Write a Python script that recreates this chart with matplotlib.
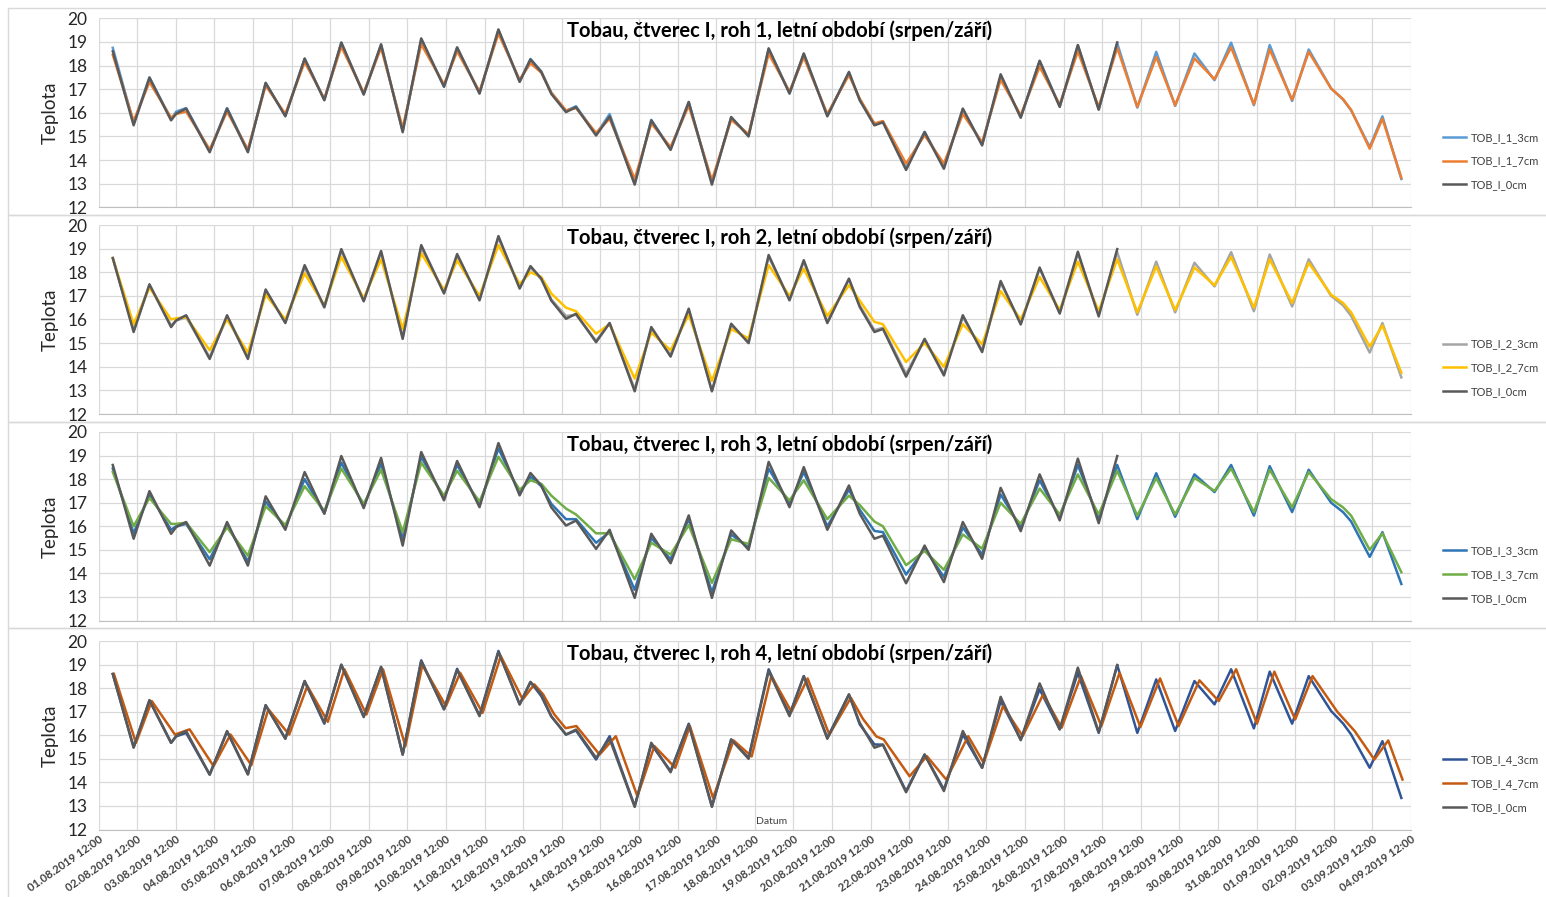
import matplotlib
matplotlib.use("Agg")
import matplotlib.pyplot as plt
from matplotlib.patches import Rectangle

# ---------------- data (time in days after 01.08.2019 12:00) ----------------
t_main = [0.37, 0.91, 1.32, 1.88, 2.01, 2.27, 2.88, 3.33, 3.87, 4.33, 4.84, 5.34, 5.85, 6.29,
          6.87, 7.32, 7.88, 8.36, 8.95, 9.29, 9.87, 10.36, 10.91, 11.19, 11.47, 11.73, 12.11,
          12.37, 12.89, 13.24, 13.89, 14.32, 14.82, 15.29, 15.89, 16.39, 16.84, 17.36, 17.9,
          18.27, 18.88, 19.44, 19.72, 20.1, 20.32, 20.92, 21.4, 21.9, 22.39, 22.89, 23.37,
          23.89, 24.38, 24.9, 25.37, 25.91, 26.39, 26.91, 27.4, 27.89, 28.39, 28.91, 29.34,
          29.93, 30.34, 30.92, 31.35, 31.93, 32.24, 32.45, 32.93, 33.26, 33.75]

tob_0cm = [18.6, 15.47, 17.49, 15.68, 15.96, 16.18, 14.33, 16.18, 14.33, 17.27, 15.85, 18.3, 16.53,
           18.98, 16.77, 18.9, 15.18, 19.15, 17.1, 18.77, 16.81, 19.53, 17.31, 18.26, 17.73, 16.8,
           16.03, 16.24, 15.04, 15.85, 12.96, 15.68, 14.43, 16.46, 12.96, 15.82, 15.0, 18.73,
           16.81, 18.51, 15.85, 17.73, 16.53, 15.47, 15.6, 13.58, 15.18, 13.63, 16.18, 14.62,
           17.63, 15.79, 18.2, 16.25, 18.87, 16.13, 18.98]

tob_1_3cm = [18.75, 15.55, 17.5, 15.72, 16.05, 16.2, 14.38, 16.2, 14.38, 17.25, 15.88, 18.28, 16.55,
             18.95, 16.8, 18.88, 15.22, 19.1, 17.12, 18.75, 16.85, 19.5, 17.33, 18.28, 17.75, 16.85,
             16.08, 16.28, 15.08, 15.95, 13.0, 15.7, 14.47, 16.45, 13.02, 15.8, 15.05, 18.7,
             16.85, 18.5, 15.88, 17.7, 16.55, 15.5, 15.62, 13.65, 15.2, 13.68, 16.15, 14.66,
             17.55, 15.82, 18.2, 16.28, 18.85, 16.15, 18.94, 16.22, 18.58, 16.29, 18.51, 17.38,
             18.97, 16.32, 18.87, 16.5, 18.68, 17.03, 16.56, 16.1, 14.55, 15.85, 13.2]

tob_1_7cm = [18.45, 15.65, 17.3, 15.8, 15.95, 16.05, 14.45, 16.05, 14.45, 17.15, 15.95, 18.15, 16.6,
             18.8, 16.85, 18.75, 15.35, 18.9, 17.2, 18.6, 16.9, 19.35, 17.4, 18.1, 17.7, 16.85,
             16.1, 16.2, 15.15, 15.75, 13.2, 15.55, 14.55, 16.3, 13.15, 15.7, 15.1, 18.5,
             16.9, 18.35, 15.95, 17.6, 16.6, 15.55, 15.65, 13.85, 15.05, 13.85, 15.95, 14.75,
             17.4, 15.9, 17.95, 16.35, 18.6, 16.25, 18.75, 16.25, 18.37, 16.32, 18.3, 17.42,
             18.77, 16.36, 18.68, 16.55, 18.58, 17.03, 16.58, 16.12, 14.48, 15.75, 13.25]

tob_2_3cm = [18.6, 15.55, 17.45, 15.75, 15.95, 16.1, 14.4, 16.1, 14.4, 17.2, 15.9, 18.2, 16.5,
             18.9, 16.8, 18.85, 15.25, 19.05, 17.15, 18.7, 16.85, 19.45, 17.35, 18.2, 17.7, 16.85,
             16.15, 16.2, 15.1, 15.85, 13.05, 15.6, 14.5, 16.4, 13.0, 15.75, 15.05, 18.65,
             16.85, 18.45, 15.9, 17.7, 16.6, 15.55, 15.65, 13.7, 15.15, 13.7, 16.1, 14.7,
             17.55, 15.85, 18.15, 16.3, 18.8, 16.2, 18.85, 16.2, 18.45, 16.3, 18.4, 17.4,
             18.85, 16.35, 18.75, 16.55, 18.55, 17.0, 16.6, 16.15, 14.6, 15.85, 13.55]

tob_2_7cm = [18.6, 15.8, 17.35, 16.0, 16.05, 16.1, 14.7, 16.0, 14.6, 17.05, 16.0, 17.95, 16.6,
             18.65, 16.9, 18.55, 15.6, 18.8, 17.25, 18.5, 17.0, 19.15, 17.5, 18.0, 17.8, 17.1,
             16.5, 16.35, 15.4, 15.8, 13.5, 15.45, 14.7, 16.2, 13.4, 15.6, 15.2, 18.3,
             17.0, 18.15, 16.15, 17.45, 16.8, 15.9, 15.8, 14.2, 15.0, 14.0, 15.8, 14.95,
             17.2, 16.0, 17.8, 16.4, 18.45, 16.35, 18.55, 16.3, 18.25, 16.4, 18.2, 17.45,
             18.65, 16.5, 18.55, 16.7, 18.4, 17.05, 16.7, 16.3, 14.85, 15.75, 13.75]

tob_3_3cm = [18.45, 15.7, 17.35, 15.85, 16.0, 16.1, 14.6, 16.05, 14.5, 17.05, 15.95, 18.0, 16.55,
             18.7, 16.85, 18.65, 15.45, 18.95, 17.2, 18.6, 16.9, 19.3, 17.4, 18.1, 17.7, 16.95,
             16.3, 16.3, 15.3, 15.75, 13.3, 15.5, 14.6, 16.3, 13.2, 15.65, 15.1, 18.45,
             16.95, 18.3, 16.0, 17.55, 16.7, 15.8, 15.75, 13.95, 15.05, 13.85, 15.95, 14.8,
             17.35, 15.95, 17.95, 16.35, 18.6, 16.3, 18.6, 16.3, 18.25, 16.4, 18.2, 17.45,
             18.6, 16.45, 18.55, 16.6, 18.4, 17.0, 16.6, 16.2, 14.7, 15.75, 13.55]

tob_3_7cm = [18.3, 16.0, 17.2, 16.1, 16.1, 16.15, 14.9, 15.95, 14.75, 16.85, 16.05, 17.7, 16.65,
             18.45, 16.95, 18.4, 15.75, 18.7, 17.3, 18.35, 17.05, 18.95, 17.55, 17.95, 17.8, 17.3,
             16.75, 16.5, 15.7, 15.7, 13.75, 15.3, 14.8, 16.05, 13.6, 15.45, 15.25, 18.05,
             17.1, 17.95, 16.3, 17.3, 16.9, 16.2, 16.0, 14.35, 14.95, 14.15, 15.65, 15.05,
             17.0, 16.1, 17.6, 16.5, 18.2, 16.5, 18.35, 16.45, 18.05, 16.5, 18.05, 17.5,
             18.45, 16.6, 18.4, 16.8, 18.3, 17.15, 16.8, 16.45, 15.0, 15.7, 14.05]

tob_4_3cm = [18.6, 15.5, 17.48, 15.68, 15.95, 16.1, 14.33, 16.15, 14.36, 17.28, 15.86, 18.3, 16.49,
             19.0, 16.8, 18.9, 15.18, 19.18, 17.1, 18.82, 16.84, 19.58, 17.31, 18.26, 17.66, 16.8,
             16.03, 16.2, 14.97, 15.96, 12.99, 15.61, 14.48, 16.49, 12.99, 15.82, 15.04, 18.8,
             16.88, 18.51, 15.89, 17.73, 16.46, 15.61, 15.6, 13.63, 15.18, 13.7, 16.03, 14.62,
             17.45, 15.82, 17.95, 16.25, 18.65, 16.1, 18.98, 16.1, 18.37, 16.18, 18.3, 17.31,
             18.8, 16.29, 18.7, 16.49, 18.51, 17.03, 16.5, 16.03, 14.62, 15.75, 13.34]

t_4_7cm = [0.40, 0.97, 1.38, 1.98, 2.36, 2.98, 3.42, 3.96, 4.40, 4.94, 5.41, 5.94, 6.37, 6.94,
           7.37, 7.95, 8.39, 9.00, 9.37, 9.95, 10.42, 10.99, 11.29, 11.52, 11.80, 12.10, 12.38,
           12.98, 13.40, 13.96, 14.40, 14.94, 15.32, 15.92, 16.45, 16.92, 17.43, 17.95, 18.37,
           18.93, 19.49, 19.80, 20.15, 20.34, 21.01, 21.46, 21.96, 22.53, 22.93, 23.43, 23.94,
           24.47, 24.95, 25.45, 25.98, 26.45, 26.99, 27.50, 27.98, 28.52, 29.02, 29.47, 30.01,
           30.46, 31.00, 31.45, 32.09, 32.54, 33.05, 33.41, 33.78]
tob_4_7cm = [18.6, 15.68, 17.45, 16.03, 16.25, 14.69, 16.03, 14.73, 17.1, 16.03, 18.09, 16.57, 18.8,
             16.88, 18.8, 15.54, 18.98, 17.24, 18.65, 16.95, 19.36, 17.52, 18.16, 17.73, 16.9,
             16.3, 16.39, 15.18, 15.96, 13.41, 15.54, 14.62, 16.39, 13.34, 15.78, 15.1, 18.51,
             17.0, 18.41, 16.03, 17.59, 16.7, 15.95, 15.82, 14.26, 15.11, 14.12, 15.96, 14.83,
             17.24, 15.96, 17.73, 16.32, 18.51, 16.39, 18.65, 16.35, 18.41, 16.39, 18.33, 17.45,
             18.8, 16.49, 18.7, 16.67, 18.51, 17.0, 16.18, 14.97, 15.78, 14.12]

date_labels = ["%02d.08.2019 12:00" % d for d in range(1, 32)] + \
              ["%02d.09.2019 12:00" % d for d in range(1, 5)]

panel_titles = ["Tobau, čtverec I, roh %d, letní období (srpen/září)" % k for k in range(1, 5)]

# ---------------- drawing ----------------
W, H = 1546, 897
fig = plt.figure(figsize=(W / 100, H / 100), dpi=100)
fig.patch.set_facecolor("white")

FONT = "Lato"
C0 = "#595959"

panels = [
    dict(top=18.3, bot=207.3, series=[("TOB_I_1_3cm", t_main, tob_1_3cm, "#5B9BD5"),
                                      ("TOB_I_1_7cm", t_main, tob_1_7cm, "#ED7D31")]),
    dict(top=225.0, bot=414.0, series=[("TOB_I_2_3cm", t_main, tob_2_3cm, "#A5A5A5"),
                                       ("TOB_I_2_7cm", t_main, tob_2_7cm, "#FFC000")]),
    dict(top=432.0, bot=620.5, series=[("TOB_I_3_3cm", t_main, tob_3_3cm, "#2E75B6"),
                                       ("TOB_I_3_7cm", t_main, tob_3_7cm, "#70AD47")]),
    dict(top=641.0, bot=829.5, series=[("TOB_I_4_3cm", t_main, tob_4_3cm, "#2F5597"),
                                       ("TOB_I_4_7cm", t_4_7cm, tob_4_7cm, "#C55A11")]),
]

# chart borders
borders = [(8, 8, 215), (8, 215, 422), (8, 422, 628), (8, 628, 905)]
for x0, y0, y1 in borders:
    fig.add_artist(Rectangle((x0 / W, 1 - y1 / H), (W + 10 - x0) / W, (y1 - y0) / H,
                             transform=fig.transFigure, fill=False,
                             edgecolor="#D9D9D9", linewidth=1.0))

x_left, x_right = 98.5, 1411.0
for i, p in enumerate(panels):
    ax = fig.add_axes([x_left / W, 1 - p["bot"] / H, (x_right - x_left) / W,
                       (p["bot"] - p["top"]) / H])
    handles = []
    for name, tt, vv, col in p["series"]:
        h, = ax.plot(tt, vv, color=col, lw=1.8, label=name, solid_joinstyle="round")
        handles.append(h)
    h0, = ax.plot(t_main[:len(tob_0cm)], tob_0cm, color=C0, lw=1.8, label="TOB_I_0cm",
                  solid_joinstyle="round")
    handles.append(h0)

    ax.set_xlim(0, 34)
    ax.set_ylim(12, 20)
    ax.set_yticks(range(12, 21))
    ax.set_xticks(range(0, 35))
    ax.grid(True, color="#D9D9D9", lw=0.9)
    ax.set_axisbelow(True)
    for s in ["top", "right", "left"]:
        ax.spines[s].set_visible(False)
    ax.spines["bottom"].set_color("#BFBFBF")
    ax.tick_params(axis="both", length=0)
    ax.tick_params(axis="y", labelsize=12.5, pad=8, labelcolor="#262626")
    for lab in ax.get_yticklabels():
        lab.set_fontfamily(FONT)
    ax.set_ylabel("Teplota", fontsize=13.5, fontfamily=FONT, color="#262626", labelpad=6)
    ax.text(0.519, 0.933, panel_titles[i], transform=ax.transAxes, ha="center", va="center",
            fontsize=14.5, fontweight="bold", fontfamily=FONT, color="#000000")
    if i < 3:
        ax.set_xticklabels([])
    else:
        ax.set_xticklabels(date_labels, rotation=35, ha="right", va="top",
                           rotation_mode="anchor", fontsize=8, fontweight="bold",
                           fontfamily=FONT, color="#404040")
        ax.tick_params(axis="x", pad=3)
        ax.text(0.513, 0.04, "Datum", transform=ax.transAxes, ha="center", va="center",
                fontsize=7.5, fontfamily=FONT, color="#404040")
    leg = ax.legend(handles=handles, loc="center left", bbox_to_anchor=(1.017, 0.245),
                    frameon=False, handlelength=2.0, handletextpad=0.45,
                    labelspacing=1.15, prop={"family": FONT, "size": 8})
    for txt in leg.get_texts():
        txt.set_color("#404040")

fig.savefig("out.png", dpi=100, facecolor="white")
